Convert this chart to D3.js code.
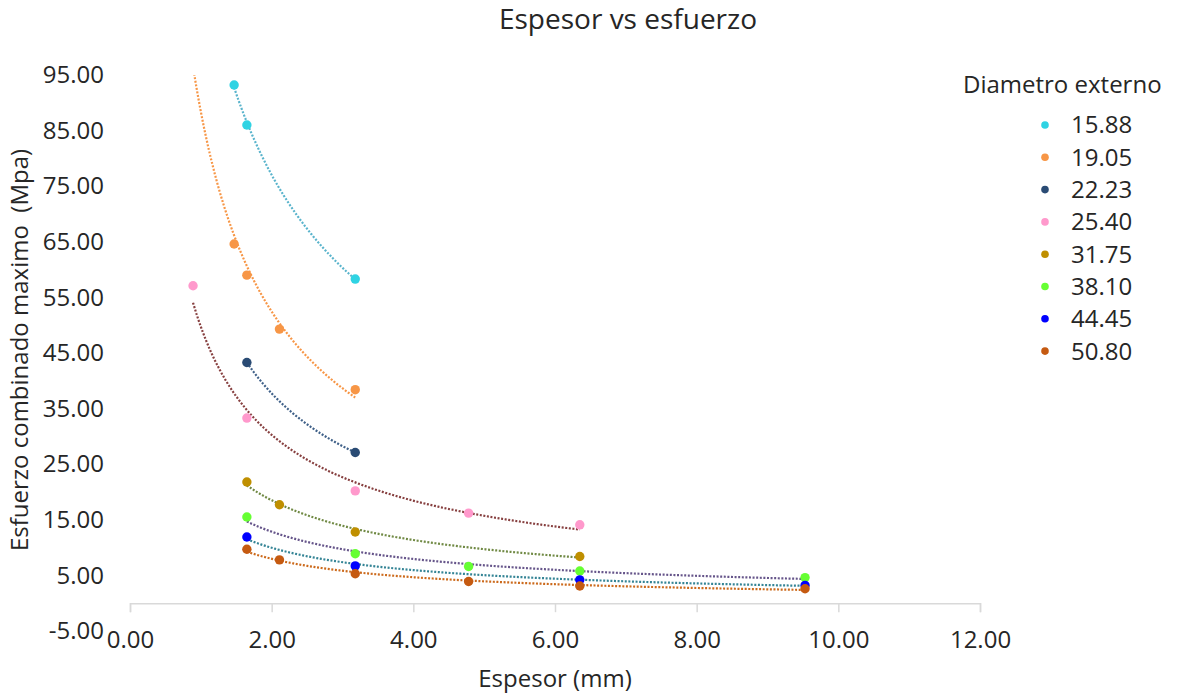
<!DOCTYPE html>
<html>
<head>
<meta charset="utf-8">
<script src="https://cdn.jsdelivr.net/npm/d3@7"></script>
<style>
  html, body { margin: 0; padding: 0; background: #fff; }
  svg { display: block; font-family: "Open Sans", "Noto Sans", sans-serif; }
</style>
</head>
<body>
<svg id="chart" width="1180" height="698"></svg>
<script>
// ---- data ----
const seriesNames = ["15.88", "19.05", "22.23", "25.40", "31.75", "38.10", "44.45", "50.80"];
const x1588 = [1.47, 1.65, 3.18];
const y1588 = [93.2, 86.0, 58.3];
// first point lies above the 95 axis maximum (hidden, only its trendline shows)
const x1905 = [0.89, 1.47, 1.65, 2.11, 3.18];
const y1905 = [100.0, 64.6, 59.0, 49.3, 38.4];
const x2223 = [1.65, 3.18];
const y2223 = [43.3, 27.1];
const x2540 = [0.89, 1.65, 3.18, 4.78, 6.35];
const y2540 = [57.1, 33.3, 20.2, 16.2, 14.1];
const x3175 = [1.65, 2.11, 3.18, 6.35];
const y3175 = [21.8, 17.7, 12.8, 8.4];
const x3810 = [1.65, 3.18, 4.78, 6.35, 9.53];
const y3810 = [15.5, 8.9, 6.6, 5.8, 4.6];
const x4445 = [1.65, 3.18, 6.35, 9.53];
const y4445 = [11.9, 6.7, 4.2, 3.2];
const x5080 = [1.65, 2.11, 3.18, 4.78, 6.35, 9.53];
const y5080 = [9.7, 7.8, 5.3, 3.9, 3.1, 2.6];
const xTicks = [0, 2, 4, 6, 8, 10, 12];
const yTicks = [-5, 5, 15, 25, 35, 45, 55, 65, 75, 85, 95];

const xs = [x1588, x1905, x2223, x2540, x3175, x3810, x4445, x5080];
const ys = [y1588, y1905, y2223, y2540, y3175, y3810, y4445, y5080];

// ---- styles ----
const markerColors = ["#2fd3e3", "#f79646", "#2a4b74", "#ff99cc", "#bf8f00", "#66ff33", "#0000ff", "#c55a11"];
const trendColors  = ["#5ab4cc", "#f79646", "#3f6088", "#874040", "#718a45", "#66558a", "#348495", "#cc6a1c"];

const svg = d3.select("#chart");
const L = 130, R = 980, T = 75, B = 631;
const x = d3.scaleLinear().domain([0, 12]).range([L, R]);
const y = d3.scaleLinear().domain([-5, 95]).range([B, T]);
const textColor = "#262626";
const fmt = v => d3.format(".2f")(v).replace("\u2212", "-");

// Title
svg.append("text").attr("x", 628).attr("y", 29).attr("text-anchor", "middle")
  .attr("font-size", 28).attr("fill", textColor).text("Espesor vs esfuerzo");

// X axis (at y = 0)
const xAxis = d3.axisBottom(x).tickValues(xTicks).tickSize(9).tickFormat(fmt);
const gx = svg.append("g").attr("transform", `translate(0,${y(0)})`).call(xAxis);
gx.select(".domain").attr("stroke", "#d9d9d9").attr("stroke-width", 1.5);
gx.selectAll(".tick line").attr("stroke", "#d9d9d9").attr("stroke-width", 1.5);
gx.selectAll(".tick text").attr("font-size", 24).attr("fill", textColor)
  .attr("font-family", "Open Sans").attr("y", 0).attr("dy", 0)
  .attr("transform", `translate(0,${y(-5) - y(0) + 17})`);

// Y axis labels (no line)
const yAxis = d3.axisLeft(y).tickValues(yTicks).tickSize(0).tickPadding(26).tickFormat(fmt);
const gy = svg.append("g").attr("transform", `translate(${L},0)`).call(yAxis);
gy.select(".domain").remove();
gy.selectAll(".tick text").attr("font-size", 24).attr("fill", textColor).attr("font-family", "Open Sans");

// Axis titles
svg.append("text").attr("x", (L + R) / 2).attr("y", 687).attr("text-anchor", "middle")
  .attr("font-size", 24).attr("fill", textColor).text("Espesor (mm)");
svg.append("text").attr("transform", `translate(28,350) rotate(-90)`).attr("text-anchor", "middle")
  .attr("font-size", 24).attr("fill", textColor).attr("xml:space", "preserve")
  .style("white-space", "pre").text("Esfuerzo combinado maximo  (Mpa)");

// clip
svg.append("clipPath").attr("id", "plotclip").append("rect")
  .attr("x", L - 10).attr("y", T).attr("width", R - L + 20).attr("height", B - T);

// Trendlines (power fit in log space, spanning each series' x range)
function powerFit(xv, yv) {
  const lx = xv.map(Math.log), ly = yv.map(Math.log);
  const mx = d3.mean(lx), my = d3.mean(ly);
  let sxy = 0, sxx = 0;
  lx.forEach((v, i) => { sxy += (v - mx) * (ly[i] - my); sxx += (v - mx) * (v - mx); });
  const b = sxy / sxx, a = Math.exp(my - b * mx);
  return t => a * Math.pow(t, b);
}
const line = d3.line().x(d => x(d[0])).y(d => y(d[1]));
const gTrend = svg.append("g").attr("clip-path", "url(#plotclip)");
xs.forEach((xv, i) => {
  const f = powerFit(xv, ys[i]);
  const [x0, x1] = d3.extent(xv);
  const pts = d3.range(0, 121).map(k => { const t = x0 + (x1 - x0) * k / 120; return [t, f(t)]; });
  gTrend.append("path").attr("d", line(pts)).attr("fill", "none")
    .attr("stroke", trendColors[i]).attr("stroke-width", 2.2)
    .attr("stroke-dasharray", "2,1.6");
});

// Markers (points beyond the axis maximum are not shown)
const gPts = svg.append("g").attr("clip-path", "url(#plotclip)");
xs.forEach((xv, i) => {
  gPts.selectAll(null).data(xv.map((v, k) => [v, ys[i][k]]).filter(d => d[1] <= 95)).enter().append("circle")
    .attr("cx", d => x(d[0])).attr("cy", d => y(d[1])).attr("r", 4.7)
    .attr("fill", markerColors[i]);
});

// Legend
const lg = svg.append("g");
lg.append("text").attr("x", 963).attr("y", 93).attr("font-size", 24).attr("fill", textColor).text("Diametro externo");
seriesNames.forEach((s, i) => {
  const cy = 125 + i * 32.3;
  lg.append("circle").attr("cx", 1045).attr("cy", cy).attr("r", 3.8).attr("fill", markerColors[i]);
  lg.append("text").attr("x", 1071).attr("y", cy).attr("dy", "0.35em").attr("font-size", 24)
    .attr("fill", textColor).text(s);
});
</script>
</body>
</html>
